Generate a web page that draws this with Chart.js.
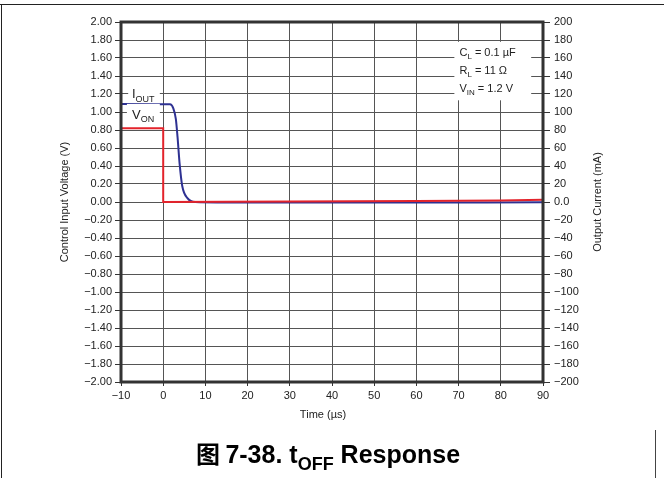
<!DOCTYPE html>
<html>
<head>
<meta charset="utf-8">
<script src="https://cdn.jsdelivr.net/npm/chart.js@4/dist/chart.umd.min.js"></script>
<style>
  body { margin: 0; background: #fff; }
  .wrap { position: relative; width: 664px; height: 478px; overflow: hidden; }
  .frame-top { position: absolute; left: 0; top: 4px; width: 664px; height: 0; border-top: 1.5px solid #222; }
  .frame-left { position: absolute; left: 1px; top: 4px; width: 0; height: 474px; border-left: 1.5px solid #222; }
  .frame-right { position: absolute; left: 655px; top: 430px; width: 0; height: 48px; border-left: 1px solid #444; }
  canvas { position: absolute; left: 0; top: 0; }
</style>
</head>
<body>
<div class="wrap">
  <canvas class="chart-canvas" width="664" height="478"></canvas>
  <div class="frame-top"></div>
  <div class="frame-left"></div>
  <div class="frame-right"></div>
</div>
<script>
// data
const vonTime = [-10, 0, 0, 30, 60, 80, 90];
const vonVolt = [0.82, 0.82, 0.0, 0.005, 0.01, 0.018, 0.025];

const ioutTime = [-10, 1.6, 2.4, 3.0, 3.4, 3.9, 4.5, 5.8, 7.6, 20, 50, 90];
const ioutMa = [109, 108.5, 104, 92, 72, 42, 18, 4, 0, -0.6, -0.6, -0.3];

const notes = [
  ['C', 'L', ' = 0.1 µF', 1.62],
  ['R', 'L', ' = 11 Ω', 1.42],
  ['V', 'IN', ' = 1.2 V', 1.22],
];

const FONT = '"Liberation Sans", Arial, Helvetica, sans-serif';
Chart.defaults.font.family = FONT;
Chart.defaults.color = '#222';

const minus = (s) => s.replace('-', '\u2212');

function toPts(xs, ys) {
  return xs.map((x, i) => ({x: x, y: ys[i]}));
}

// text with one subscript
function drawSub(c, x, y, main, sub, rest, size, bold) {
  const w = bold ? 'bold ' : '';
  c.font = w + size + 'px ' + FONT;
  c.fillText(main, x, y);
  x += c.measureText(main).width;
  c.font = w + Math.round(size * 0.72) + 'px ' + FONT;
  c.fillText(sub, x, y + size * 0.28);
  x += c.measureText(sub).width;
  c.font = w + size + 'px ' + FONT;
  if (rest) c.fillText(rest, x, y);
}

const textPlugin = {
  id: 'textPlugin',
  afterDraw(chart) {
    const c = chart.ctx;
    const a = chart.chartArea;
    const sx = chart.scales.x, sy = chart.scales.y;
    c.save();

    // white boxes behind labels
    c.fillStyle = '#fff';
    const box = (t0, t1, v0, v1) => {
      const x0 = sx.getPixelForValue(t0), x1 = sx.getPixelForValue(t1);
      const y0 = sy.getPixelForValue(v0), y1 = sy.getPixelForValue(v1);
      c.fillRect(x0, y0, x1 - x0, y1 - y0);
    };
    box(-8.3, -0.8, 1.29, 1.12);
    box(-8.6, -0.8, 1.09, 0.87);
    box(69.0, 87.2, 1.78, 1.13);

    c.fillStyle = '#222';
    c.textAlign = 'left';
    c.textBaseline = 'alphabetic';
    drawSub(c, sx.getPixelForValue(-7.4), sy.getPixelForValue(1.155), 'I', 'OUT', '', 13, false);
    drawSub(c, sx.getPixelForValue(-7.4), sy.getPixelForValue(0.925), 'V', 'ON', '', 13, false);
    notes.forEach((n) => {
      drawSub(c, sx.getPixelForValue(70.2), sy.getPixelForValue(n[3]), n[0], n[1], n[2], 11, false);
    });

    // plot frame
    c.strokeStyle = '#333';
    c.lineWidth = 3;
    c.strokeRect(a.left, a.top, a.right - a.left, a.bottom - a.top);

    // axis titles
    c.font = '11px ' + FONT;
    c.textAlign = 'center';
    c.textBaseline = 'middle';
    const midY = (a.top + a.bottom) / 2;
    c.save();
    c.translate(65, midY);
    c.rotate(-Math.PI / 2);
    c.fillText('Control Input Voltage (V)', 0, 0);
    c.restore();
    c.save();
    c.translate(598, midY);
    c.rotate(-Math.PI / 2);
    c.fillText('Output Current (mA)', 0, 0);
    c.restore();
    c.fillText('Time (µs)', 323, 415);

    // figure caption
    c.textAlign = 'left';
    c.textBaseline = 'alphabetic';
    c.fillStyle = '#000';
    const cy = 463;
    const cjk = 'bold 24px "Noto Sans CJK SC", sans-serif';
    const big = 25;
    c.font = cjk;
    const p1 = '图 ';
    let w = c.measureText(p1).width;
    c.font = 'bold ' + big + 'px ' + FONT;
    const p2 = '7-38. t';
    w += c.measureText(p2).width;
    c.font = 'bold ' + Math.round(big * 0.72) + 'px ' + FONT;
    w += c.measureText('OFF').width;
    c.font = 'bold ' + big + 'px ' + FONT;
    w += c.measureText(' Response').width;
    let cx = 328 - w / 2;
    c.font = cjk;
    c.fillText(p1, cx, cy);
    cx += c.measureText(p1).width;
    drawSub(c, cx, cy, p2, 'OFF', ' Response', big, true);
    c.restore();
  }
};

const ctx = document.querySelector('.chart-canvas');

const config = {
  type: 'scatter',
  data: {
    datasets: [{
      label: 'VON',
      data: toPts(vonTime, vonVolt),
      showLine: true,
      borderColor: '#e3232b',
      borderWidth: 2,
      pointRadius: 0,
      yAxisID: 'y',
    }, {
      label: 'IOUT',
      data: toPts(ioutTime, ioutMa),
      showLine: true,
      borderColor: '#2e3192',
      borderWidth: 2,
      pointRadius: 0,
      cubicInterpolationMode: 'monotone',
      yAxisID: 'y1',
    }]
  },
  options: {
    responsive: false,
    animation: false,
    devicePixelRatio: 1,
    layout: {padding: {top: 22, left: 0, right: 0, bottom: 0}},
    plugins: {
      legend: {display: false},
      tooltip: {enabled: false},
    },
    scales: {
      x: {
        type: 'linear',
        min: -10,
        max: 90,
        afterFit: (s) => { s.height = 96; },
        border: {display: false},
        grid: {color: '#555', lineWidth: 1, tickLength: 4, tickColor: '#333'},
        ticks: {
          stepSize: 10,
          padding: 3,
          font: {size: 11},
          maxRotation: 0,
          callback: (v) => minus(String(v)),
        },
      },
      y: {
        position: 'left',
        min: -2,
        max: 2,
        afterFit: (s) => { s.width = 121; },
        border: {display: false},
        grid: {color: '#555', lineWidth: 1, tickLength: 6, tickColor: '#333'},
        ticks: {
          stepSize: 0.2,
          padding: 3,
          font: {size: 11},
          callback: (v) => minus(Number(v).toFixed(2)),
        },
      },
      y1: {
        position: 'right',
        min: -200,
        max: 200,
        afterFit: (s) => { s.width = 121; },
        border: {display: false},
        grid: {drawOnChartArea: false, tickLength: 7, color: '#333'},
        ticks: {
          stepSize: 20,
          padding: 4,
          font: {size: 11},
          callback: (v) => v === 0 ? '0.0' : minus(String(Math.round(v))),
        },
      },
    },
  },
  plugins: [textPlugin],
};

const chart = new Chart(ctx, config);
</script>
</body>
</html>
